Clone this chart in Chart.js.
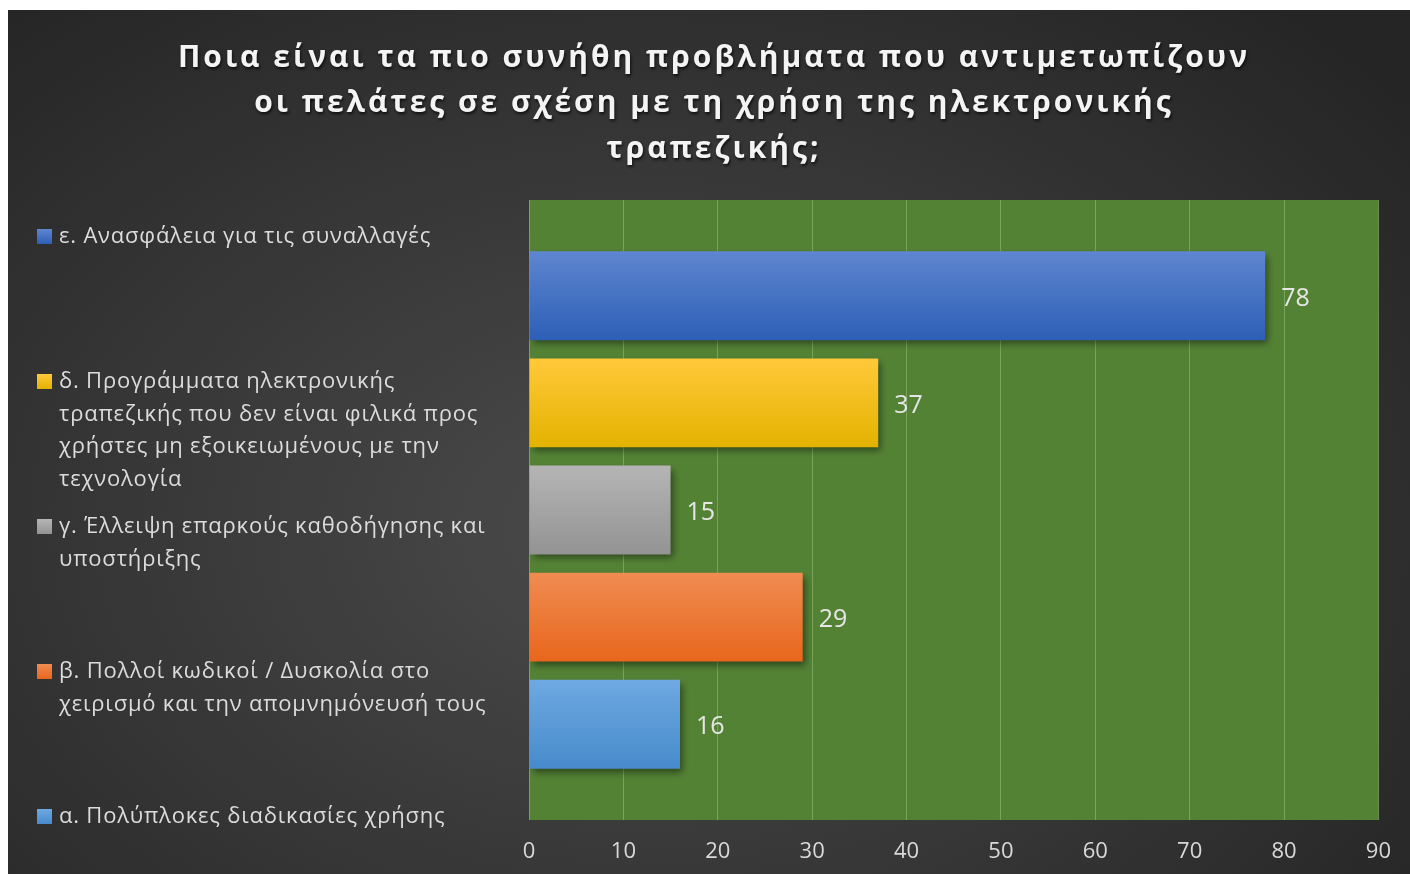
<!DOCTYPE html>
<html>
<head>
<meta charset="utf-8">
<script src="https://cdn.jsdelivr.net/npm/chart.js@4.4.1/dist/chart.umd.min.js"></script>
<style>
html, body { margin: 0; padding: 0; background: #fff; }
#wrap {
    position: absolute; left: 8px; top: 10px; width: 1402px; height: 864px;
    background: radial-gradient(ellipse 70% 80% at 45% 60%, #4b4b4b 0%, #3a3a3a 45%, #252525 100%);
}
canvas { display: block; }
</style>
</head>
<body>
<div id="wrap"><canvas id="myChart" width="1402" height="864"></canvas></div>
<script>
// Title lines
const titleLines = [
    'Ποια είναι τα πιο συνήθη προβλήματα που αντιμετωπίζουν',
    'οι πελάτες σε σχέση με τη χρήση της ηλεκτρονικής',
    'τραπεζικής;'
];

// Answers (one dataset each, top to bottom)
const answers = [
    ['ε. Ανασφάλεια για τις συναλλαγές'],
    ['δ. Προγράμματα ηλεκτρονικής', 'τραπεζικής που δεν είναι φιλικά προς', 'χρήστες μη εξοικειωμένους με την', 'τεχνολογία'],
    ['γ. Έλλειψη επαρκούς καθοδήγησης και', 'υποστήριξης'],
    ['β. Πολλοί κωδικοί / Δυσκολία στο', 'χειρισμό και την απομνημόνευσή τους'],
    ['α. Πολύπλοκες διαδικασίες χρήσης']
];
const counts = [78, 37, 15, 29, 16];

// Axis range
const axisMin = 0;
const axisMax = 90;
const axisStep = 10;

// Bar colours (gradient top -> bottom)
const colorTop = ['#5f86d0', '#ffc93a', '#b5b5b5', '#f08c52', '#6ea9e2'];
const colorBottom = ['#2d5fb6', '#e4b200', '#939393', '#e8661c', '#478acb'];

const FONT = '"Open Sans", "Noto Sans", sans-serif';

// Green plot area behind the grid
const plotBackground = {
    id: 'plotBackground',
    beforeDraw(chart) {
        const { ctx, chartArea: a } = chart;
        ctx.save();
        ctx.fillStyle = '#548235';
        ctx.fillRect(a.left, a.top, a.right - a.left, a.bottom - a.top);
        ctx.restore();
    }
};

// Gradient fill + drop shadow for bars, value labels after
const barStyle = {
    id: 'barStyle',
    beforeDatasetsDraw(chart) {
        const ctx = chart.ctx;
        chart.data.datasets.forEach((ds, i) => {
            chart.getDatasetMeta(i).data.forEach(el => {
                const g = ctx.createLinearGradient(0, el.y - el.height / 2, 0, el.y + el.height / 2);
                g.addColorStop(0, colorTop[i]);
                g.addColorStop(1, colorBottom[i]);
                el.options.backgroundColor = g;
            });
        });
        ctx.save();
        ctx.shadowColor = 'rgba(0,0,0,0.45)';
        ctx.shadowBlur = 7;
        ctx.shadowOffsetX = 3;
        ctx.shadowOffsetY = 4;
    },
    afterDatasetsDraw(chart) {
        const ctx = chart.ctx;
        ctx.restore();
        ctx.save();
        ctx.font = '25px ' + FONT;
        ctx.fillStyle = '#e6e6e6';
        ctx.textBaseline = 'middle';
        ctx.textAlign = 'left';
        chart.data.datasets.forEach((ds, i) => {
            chart.getDatasetMeta(i).data.forEach((el, j) => {
                ctx.fillText(ds.data[j], el.x + 16, el.y + 3);
            });
        });
        ctx.restore();
    }
};

// Title and the wrapped legend on the left
const sideText = {
    id: 'sideText',
    afterDraw(chart) {
        const ctx = chart.ctx;
        ctx.save();
        ctx.font = 'bold 30px ' + FONT;
        ctx.letterSpacing = '3px';
        ctx.fillStyle = '#f4f4f4';
        ctx.textAlign = 'center';
        ctx.textBaseline = 'middle';
        ctx.shadowColor = 'rgba(0,0,0,0.7)';
        ctx.shadowBlur = 3;
        ctx.shadowOffsetX = 1;
        ctx.shadowOffsetY = 2;
        titleLines.forEach((line, k) => ctx.fillText(line, 706, 48 + k * 45.5));
        ctx.restore();

        ctx.save();
        ctx.font = '22px ' + FONT;
        ctx.letterSpacing = '0.8px';
        ctx.textBaseline = 'middle';
        chart.data.datasets.forEach((ds, i) => {
            const y0 = 227 + i * 145;
            const g = ctx.createLinearGradient(0, y0 - 8, 0, y0 + 7);
            g.addColorStop(0, colorTop[i]);
            g.addColorStop(1, colorBottom[i]);
            ctx.fillStyle = g;
            ctx.fillRect(29, y0 - 8, 15, 15);
            ctx.fillStyle = '#dcdcdc';
            ds.label.forEach((line, k) => ctx.fillText(line, 51, y0 + k * 32.5));
        });
        ctx.restore();
    }
};

const ctx = document.getElementById('myChart').getContext('2d');
new Chart(ctx, {
    type: 'bar',
    data: {
        labels: [''],
        datasets: answers.map((a, i) => ({
            label: a,
            data: [counts[i]],
            backgroundColor: colorBottom[i],
            borderWidth: 0,
            barPercentage: 0.83,
            categoryPercentage: 0.864
        }))
    },
    options: {
        indexAxis: 'y',
        responsive: false,
        animation: false,
        layout: { padding: { left: 521, right: 31, top: 190, bottom: 10 } },
        plugins: {
            legend: { display: false },
            title: { display: false },
            tooltip: { enabled: false }
        },
        scales: {
            x: {
                min: axisMin,
                max: axisMax,
                afterFit(scale) { scale.height = 44; },
                ticks: {
                    stepSize: axisStep,
                    color: '#d9d9d9',
                    font: { family: FONT, size: 22 },
                    padding: 19
                },
                grid: { color: 'rgba(150,195,120,0.55)', drawTicks: false },
                border: { display: false }
            },
            y: { display: false }
        }
    },
    plugins: [plotBackground, barStyle, sideText]
});
</script>
</body>
</html>
